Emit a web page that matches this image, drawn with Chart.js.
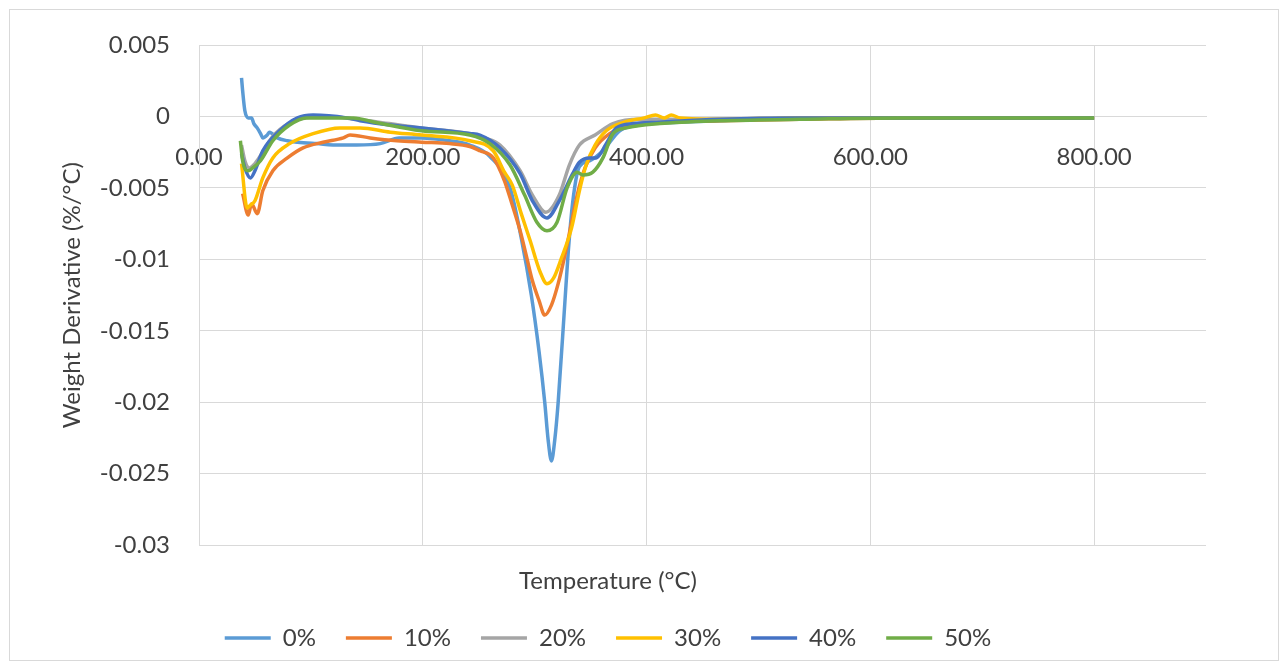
<!DOCTYPE html>
<html>
  <head>
    <script src="https://cdn.jsdelivr.net/npm/chart.js@4.4.0/dist/chart.umd.min.js"></script>
    <style>
      body { margin: 0; background: #fff; }
    </style>
  </head>

  <body>
    <canvas id="canvas" width="1287" height="668"></canvas>
    <script>
      // temperatures (°C) and weight derivative (%/°C)
      const series = ['0%', '10%', '20%', '30%', '40%', '50%'];
      const colors = ['#5B9BD5', '#ED7D31', '#A5A5A5', '#FFC000', '#4472C4', '#70AD47'];

      const t0 = [38, 39, 41, 44, 47, 49, 52, 55, 57, 61, 63, 70, 79, 88, 105, 126, 141, 162, 179, 199, 224, 242, 260, 278, 288, 297, 304, 309, 312, 315, 318, 321, 327, 330, 334, 340, 349, 361, 376, 394, 429, 465, 537, 626, 715, 800];
      const v0 = [0.0027, 0.0018, 0.0004, -0.0001, -0.0001, -0.0005, -0.0008, -0.0012, -0.0015, -0.0013, -0.0011, -0.0015, -0.0017, -0.0018, -0.0019, -0.002, -0.002, -0.0019, -0.0015, -0.0015, -0.0017, -0.002, -0.0028, -0.005, -0.0085, -0.0125, -0.0165, -0.02, -0.0226, -0.0241, -0.0226, -0.02, -0.013, -0.0095, -0.006, -0.0035, -0.0031, -0.0024, -0.001, -0.0006, -0.0004, -0.0003, -0.0001, -0.0001, -0.0001, -0.0001];

      const t1 = [39, 44, 47, 52, 57, 66, 79, 93, 111, 129, 135, 153, 177, 199, 224, 242, 251, 263, 273, 280, 287, 293, 298, 304, 309, 315, 321, 327, 333, 338, 345, 354, 367, 385, 412, 465, 537, 626, 715, 800];
      const v1 = [-0.0054, -0.0069, -0.0061, -0.0068, -0.0052, -0.0038, -0.0029, -0.0022, -0.0018, -0.0015, -0.0013, -0.0015, -0.0017, -0.0018, -0.0019, -0.0021, -0.0024, -0.0029, -0.0045, -0.0062, -0.008, -0.0099, -0.0115, -0.0129, -0.0139, -0.0132, -0.0117, -0.0097, -0.0074, -0.0055, -0.0036, -0.0022, -0.0012, -0.0006, -0.0004, -0.0003, -0.0002, -0.0001, -0.0001, -0.0001];

      const t2 = [38, 41, 45, 50, 57, 66, 80, 95, 115, 140, 170, 199, 242, 255, 269, 287, 298, 310, 322, 331, 340, 354, 370, 394, 430, 465, 537, 626, 715, 800];
      const v2 = [-0.002, -0.0031, -0.0036, -0.0033, -0.0025, -0.0014, -0.0005, -0.0001, 0.0, -0.0002, -0.0005, -0.0008, -0.0012, -0.0015, -0.002, -0.0038, -0.0055, -0.0067, -0.0055, -0.0034, -0.002, -0.0013, -0.0005, -0.0002, -0.0002, -0.0002, -0.0001, -0.0001, -0.0001, -0.0001];

      const t3 = [38, 43, 46, 50, 57, 66, 81, 102, 126, 144, 171, 199, 242, 263, 273, 280, 288, 296, 305, 311, 317, 324, 333, 340, 346, 354, 364, 380, 398, 408, 416, 422, 430, 465, 537, 626, 715, 800];
      const v3 = [-0.0033, -0.0064, -0.0062, -0.0059, -0.0043, -0.0029, -0.0019, -0.0012, -0.0008, -0.0008, -0.0011, -0.0013, -0.0017, -0.0024, -0.0039, -0.0048, -0.0068, -0.0087, -0.0109, -0.0117, -0.0113, -0.0099, -0.0078, -0.0052, -0.0034, -0.002, -0.001, -0.0004, -0.0001, 0.0001, -0.0001, 0.0001, -0.0001, -0.0002, -0.0001, -0.0001, -0.0001, -0.0001];

      const t4 = [38, 41, 46, 50, 57, 72, 88, 102, 132, 144, 171, 199, 242, 251, 269, 287, 298, 311, 322, 334, 340, 349, 355, 364, 373, 388, 412, 465, 537, 626, 715, 800];
      const v4 = [-0.0026, -0.0036, -0.0043, -0.0038, -0.0024, -0.001, -0.0001, 0.0001, -0.0001, -0.0003, -0.0006, -0.0008, -0.0012, -0.0013, -0.0022, -0.004, -0.0059, -0.0071, -0.0059, -0.004, -0.0032, -0.0029, -0.0029, -0.0019, -0.0008, -0.0005, -0.0004, -0.0002, -0.0001, -0.0001, -0.0001, -0.0001];

      const t5 = [37, 39, 44, 48, 55, 66, 81, 96, 117, 138, 157, 199, 242, 260, 278, 291, 302, 311, 320, 329, 338, 343, 352, 361, 370, 382, 412, 465, 537, 626, 715, 800];
      const v5 = [-0.0017, -0.0031, -0.0038, -0.0036, -0.0031, -0.0017, -0.0006, -0.0001, -0.0001, -0.0001, -0.0004, -0.001, -0.0013, -0.0019, -0.0034, -0.0055, -0.0074, -0.008, -0.0074, -0.005, -0.0039, -0.0041, -0.0039, -0.0029, -0.0012, -0.0008, -0.0005, -0.0003, -0.0002, -0.0001, -0.0001, -0.0001];

      const temps = [t0, t1, t2, t3, t4, t5];
      const values = [v0, v1, v2, v3, v4, v5];

      const textColor = '#404040';
      const gridColor = '#D9D9D9';
      const fontFamily = 'Lato, "Open Sans", sans-serif';

      const frame = {
        id: 'frame',
        beforeDraw(chart) {
          const ctx = chart.ctx;
          ctx.save();
          ctx.fillStyle = '#fff';
          ctx.fillRect(0, 0, chart.width, chart.height);
          ctx.strokeStyle = gridColor;
          ctx.lineWidth = 1;
          ctx.strokeRect(9.5, 9.5, 1269, 651);
          ctx.restore();
        },
      };

      const datasets = series.map((name, i) => ({
        label: name,
        data: temps[i].map((t, j) => ({ x: t, y: values[i][j] })),
        borderColor: colors[i],
        backgroundColor: colors[i],
        borderWidth: 3.5,
        pointRadius: 0,
        cubicInterpolationMode: 'monotone',
        order: series.length - i,
      }));

      Chart.defaults.font.family = fontFamily;

      new Chart(document.getElementById('canvas').getContext('2d'), {
        type: 'line',
        data: { datasets },
        plugins: [frame],
        options: {
          responsive: false,
          animation: false,
          devicePixelRatio: 1,
          layout: { padding: { left: 10, right: 81, top: 45, bottom: 8 } },
          scales: {
            x: {
              type: 'linear',
              min: 0,
              max: 900,
              position: { y: 0 },
              grid: { color: gridColor, drawTicks: false },
              border: { color: gridColor },
              ticks: {
                stepSize: 200,
                includeBounds: false,
                padding: 26,
                color: textColor,
                font: { size: 24 },
                maxRotation: 0,
                callback: (v) => v.toFixed(2),
              },
            },
            y: {
              type: 'linear',
              min: -0.03,
              max: 0.005,
              grid: { color: gridColor, drawTicks: false },
              border: { color: gridColor },
              ticks: {
                stepSize: 0.005,
                padding: 29,
                color: textColor,
                font: { size: 24 },
                callback: (v) => String(parseFloat(v.toFixed(3))),
              },
              title: {
                display: true,
                text: 'Weight Derivative (%/°C)',
                color: textColor,
                font: { size: 24 },
                padding: { top: 48, bottom: 0 },
              },
              afterFit: (scale) => {
                scale.width = 189;
              },
            },
          },
          plugins: {
            title: {
              display: true,
              text: 'Temperature (°C)',
              position: 'bottom',
              weight: 500,
              color: textColor,
              font: { size: 24, weight: 'normal' },
              padding: { top: 22, bottom: 0 },
            },
            legend: {
              position: 'bottom',
              labels: {
                usePointStyle: true,
                pointStyle: 'line',
                pointStyleWidth: 46,
                color: textColor,
                font: { size: 24 },
                padding: 30,
                sort: (a, b) => a.datasetIndex - b.datasetIndex,
              },
            },
            tooltip: { enabled: false },
          },
        },
      });
    </script>
  </body>
</html>
